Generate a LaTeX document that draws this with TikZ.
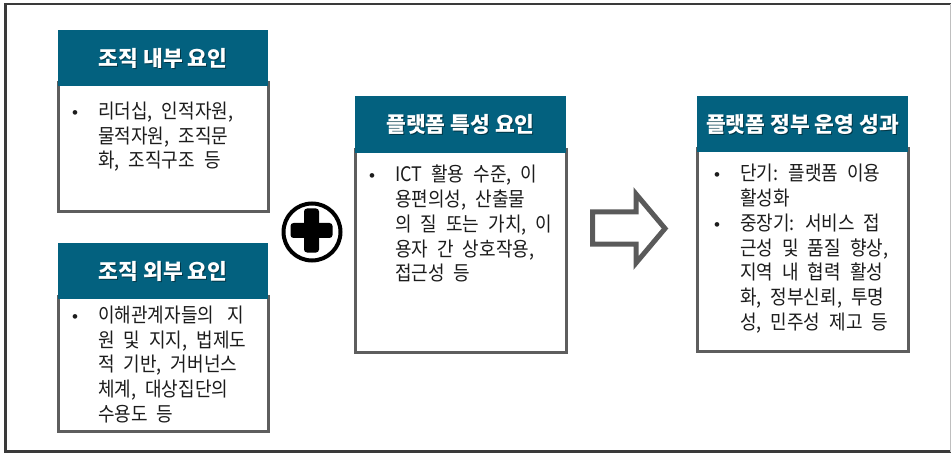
\documentclass[tikz,border=0pt]{standalone}
\usepackage{fontspec}
\newfontfamily\kr[FakeStretch=0.9]{Noto Sans CJK KR}
\newfontfamily\krt{Noto Sans CJK KR}
\newfontfamily\bulfont{Liberation Sans}
\definecolor{hdrc}{HTML}{03617F}
\definecolor{bordc}{HTML}{5E5E5E}
\definecolor{txtc}{HTML}{1C1C1C}
\definecolor{arrc}{HTML}{5A5A5A}
\definecolor{framec}{HTML}{3A3A3A}
\newcommand{\bodytext}[1]{\parbox[t]{165pt}{\raggedright\spaceskip=9pt\relax #1}}
\begin{document}
\begin{tikzpicture}[x=1pt,y=-1pt,
  hdr/.style={fill=hdrc, draw=none, minimum width=210pt, minimum height=56pt, anchor=north west, inner sep=0pt, outer sep=0pt},
  bodybox/.style={draw=bordc, line width=3pt, fill=white, minimum width=210pt, anchor=north west, inner sep=0pt, outer sep=0pt},
  ttl/.style={text=white, inner sep=0pt, font=\krt\bfseries\fontsize{21.5}{25}\selectfont},
  ttlsh/.style={text=black, text opacity=0.45, inner sep=0pt, font=\krt\bfseries\fontsize{21.5}{25}\selectfont},
  txt/.style={anchor=base west, inner sep=0pt, text=txtc, font=\kr\fontsize{20}{24.7}\selectfont},
  bul/.style={anchor=base, inner sep=0pt, text=txtc, font=\bulfont\fontsize{17}{18}\selectfont},
]
\useasboundingbox (0,0) rectangle (952,454);
% outer frame
\draw[framec, line width=2.5pt] (950.5,4) -- (5.5,4) -- (5.5,451.5) -- (950.5,451.5);
\draw[black!25, line width=1pt] (950.8,4) -- (950.8,451.5);

% box 1
\node[bodybox, minimum height=129pt] (b1) at (58,83) {};
\node[hdr] (h1) at (58,30) {};
\node[ttlsh] (t1s) at ([shift={(1,1)}]h1.center) {조직 내부 요인};
\node[ttl] (t1) at (h1.center) {조직 내부 요인};
\node[bul] (u1) at (75,118.5) {•};
\node[txt] (x1) at (98,118.5) {\bodytext{리더십, 인적자원,\\물적자원, 조직문\\화, 조직구조 등}};

% box 2
\node[bodybox, minimum height=135pt] (b2) at (58,296) {};
\node[hdr] (h2) at (58,243) {};
\node[ttlsh] (t2s) at ([shift={(1,1)}]h2.center) {조직 외부 요인};
\node[ttl] (t2) at (h2.center) {조직 외부 요인};
\node[bul] (u2) at (75,322.5) {•};
\node[txt] (x2) at (98,322.5) {\bodytext{이해관계자들의\hspace{4pt} 지\\원 및 지지, 법제도\\적 기반, 거버넌스\\체계, 대상집단의\\수용도 등}};

% box 3
\node[bodybox, minimum width=211pt, minimum height=202pt] (b3) at (355,150) {};
\node[hdr, minimum width=211pt, minimum height=57pt] (h3) at (355,96) {};
\node[ttlsh] (t3s) at ([shift={(1,1)}]h3.center) {플랫폼 특성 요인};
\node[ttl] (t3) at (h3.center) {플랫폼 특성 요인};
\node[bul] (u3) at (372,182) {•};
\node[txt] (x3) at (395,182) {\bodytext{ICT 활용 수준, 이\\용편의성, 산출물\\의 질 또는 가치, 이\\용자 간 상호작용,\\접근성 등}};

% box 4
\node[bodybox, minimum width=211pt, minimum height=202pt] (b4) at (697,149) {};
\node[hdr, minimum width=211pt] (h4) at (697,96) {};
\node[ttlsh] (t4s) at ([shift={(1,1)}]h4.center) {플랫폼 정부 운영 성과};
\node[ttl] (t4) at (h4.center) {플랫폼 정부 운영 성과};
\node[bul] (u4a) at (717,181) {•};
\node[txt] (x4a) at (740,181) {\bodytext{단기: 플랫폼 이용\\활성화}};
\node[bul] (u4b) at (717,230.4) {•};
\node[txt] (x4b) at (740,230.4) {\bodytext{중장기: 서비스 접\\근성 및 품질 향상,\\지역 내 협력 활성\\화, 정부신뢰, 투명\\성, 민주성 제고 등}};

% plus sign
\node[circle, draw=black, line width=4pt, minimum size=57pt, inner sep=0pt] (pc) at (312,232) {};
\node[fill=black, rounded corners=3pt, minimum width=42pt, minimum height=15pt, inner sep=0pt] (ph) at (311.5,230.5) {};
\node[fill=black, rounded corners=3pt, minimum width=15pt, minimum height=44pt, inner sep=0pt] (pv) at (311.5,230.5) {};

% block arrow
\draw[arrc, line width=5pt, line join=miter] (592.5,211.8) -- (636,211.8) -- (636,194) -- (665,228.5) -- (636,263) -- (636,244.2) -- (592.5,244.2) -- cycle;
\end{tikzpicture}
\end{document}
